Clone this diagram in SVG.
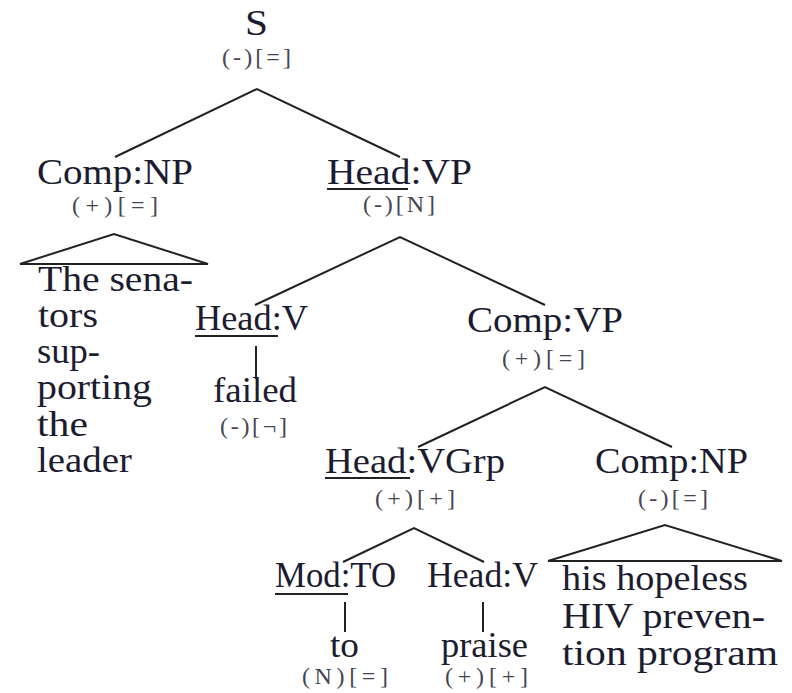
<svg xmlns="http://www.w3.org/2000/svg" width="792" height="693" viewBox="0 0 792 693">
  <style>
    .lbl { font-size: 35px; fill: #1c1c30; }
    .feat { font-size: 24px; fill: #454552; }
    .edge { stroke: #222; stroke-width: 2; fill: none; }
    .ul { stroke: #222; stroke-width: 2; }
  </style>
  <rect width="792" height="693" fill="#ffffff"/>

  <!-- tree edges and roofs -->
  <g id="connectors">
    <polyline class="edge" points="115,157 257,89 400,157"/>
    <polygon class="edge" points="20,264 114,234 208,264"/>
    <polyline class="edge" points="255,305 400,237 545,305"/>
    <line class="edge" x1="256" y1="346" x2="256" y2="379"/>
    <polyline class="edge" points="418,447 545,387 672,447"/>
    <polyline class="edge" points="343,562 414,528 484,562"/>
    <polygon class="edge" points="548,561 665,525 782,561"/>
    <line class="edge" x1="345" y1="602" x2="345" y2="632"/>
    <line class="edge" x1="483" y1="602" x2="483" y2="632"/>
  </g>

  <g id="nodes" font-family="Liberation Serif, Times New Roman, serif">
  <g id="n-s">
    <text class="lbl" x="245" y="35" textLength="23" lengthAdjust="spacingAndGlyphs">S</text>
    <text class="feat" x="222" y="65" textLength="69" lengthAdjust="spacing">(-)[=]</text>
  </g>

  <g id="n-comp-np1">
    <text class="lbl" x="37" y="184" textLength="156" lengthAdjust="spacingAndGlyphs">Comp:NP</text>
    <text class="feat" x="72" y="213" textLength="86" lengthAdjust="spacing">(+)[=]</text>
  </g>

  <g id="n-subj-words">
    <text class="lbl" x="38" y="291" textLength="155" lengthAdjust="spacingAndGlyphs">The sena-</text>
    <text class="lbl" x="38" y="327" textLength="60" lengthAdjust="spacingAndGlyphs">tors</text>
    <text class="lbl" x="37" y="363" textLength="63" lengthAdjust="spacingAndGlyphs">sup-</text>
    <text class="lbl" x="37" y="399" textLength="115" lengthAdjust="spacingAndGlyphs">porting</text>
    <text class="lbl" x="37" y="436" textLength="51" lengthAdjust="spacingAndGlyphs">the</text>
    <text class="lbl" x="37" y="472" textLength="95" lengthAdjust="spacingAndGlyphs">leader</text>
  </g>

  <g id="n-head-vp">
    <text class="lbl" x="327" y="184" textLength="145" lengthAdjust="spacingAndGlyphs">Head:VP</text>
    <line class="ul" x1="327" y1="189" x2="408" y2="189"/>
    <text class="feat" x="363" y="212" textLength="72" lengthAdjust="spacing">(-)[N]</text>
  </g>

  <g id="n-head-v1">
    <text class="lbl" x="195" y="330" textLength="113" lengthAdjust="spacingAndGlyphs">Head:V</text>
    <line class="ul" x1="195" y1="336" x2="278" y2="336"/>
  </g>

  <g id="n-failed">
    <text class="lbl" x="213" y="402" textLength="84" lengthAdjust="spacingAndGlyphs">failed</text>
    <text class="feat" x="220" y="434" textLength="67" lengthAdjust="spacing">(-)[¬]</text>
  </g>

  <g id="n-comp-vp">
    <text class="lbl" x="467" y="332" textLength="156" lengthAdjust="spacingAndGlyphs">Comp:VP</text>
    <text class="feat" x="502" y="366" textLength="83" lengthAdjust="spacing">(+)[=]</text>
  </g>

  <g id="n-head-vgrp">
    <text class="lbl" x="325" y="473" textLength="180" lengthAdjust="spacingAndGlyphs">Head:VGrp</text>
    <line class="ul" x1="325" y1="478" x2="410" y2="478"/>
    <text class="feat" x="375" y="506" textLength="80" lengthAdjust="spacing">(+)[+]</text>
  </g>

  <g id="n-comp-np2">
    <text class="lbl" x="595" y="473" textLength="153" lengthAdjust="spacingAndGlyphs">Comp:NP</text>
    <text class="feat" x="638" y="506" textLength="70" lengthAdjust="spacing">(-)[=]</text>
  </g>

  <g id="n-obj-words">
    <text class="lbl" x="562" y="590" textLength="186" lengthAdjust="spacingAndGlyphs">his hopeless</text>
    <text class="lbl" x="562" y="628" textLength="203" lengthAdjust="spacingAndGlyphs">HIV preven-</text>
    <text class="lbl" x="562" y="665" textLength="216" lengthAdjust="spacingAndGlyphs">tion program</text>
  </g>

  <g id="n-mod-to">
    <text class="lbl" x="275" y="587" textLength="121" lengthAdjust="spacingAndGlyphs">Mod:TO</text>
    <line class="ul" x1="275" y1="594" x2="348" y2="594"/>
  </g>

  <g id="n-head-v2">
    <text class="lbl" x="427" y="587" textLength="111" lengthAdjust="spacingAndGlyphs">Head:V</text>
  </g>

  <g id="n-to">
    <text class="lbl" x="330" y="657" textLength="29" lengthAdjust="spacingAndGlyphs">to</text>
    <text class="feat" x="302" y="684" textLength="86" lengthAdjust="spacing">(N)[=]</text>
  </g>

  <g id="n-praise">
    <text class="lbl" x="441" y="657" textLength="87" lengthAdjust="spacingAndGlyphs">praise</text>
    <text class="feat" x="445" y="684" textLength="83" lengthAdjust="spacing">(+)[+]</text>
  </g>
  </g>
</svg>
